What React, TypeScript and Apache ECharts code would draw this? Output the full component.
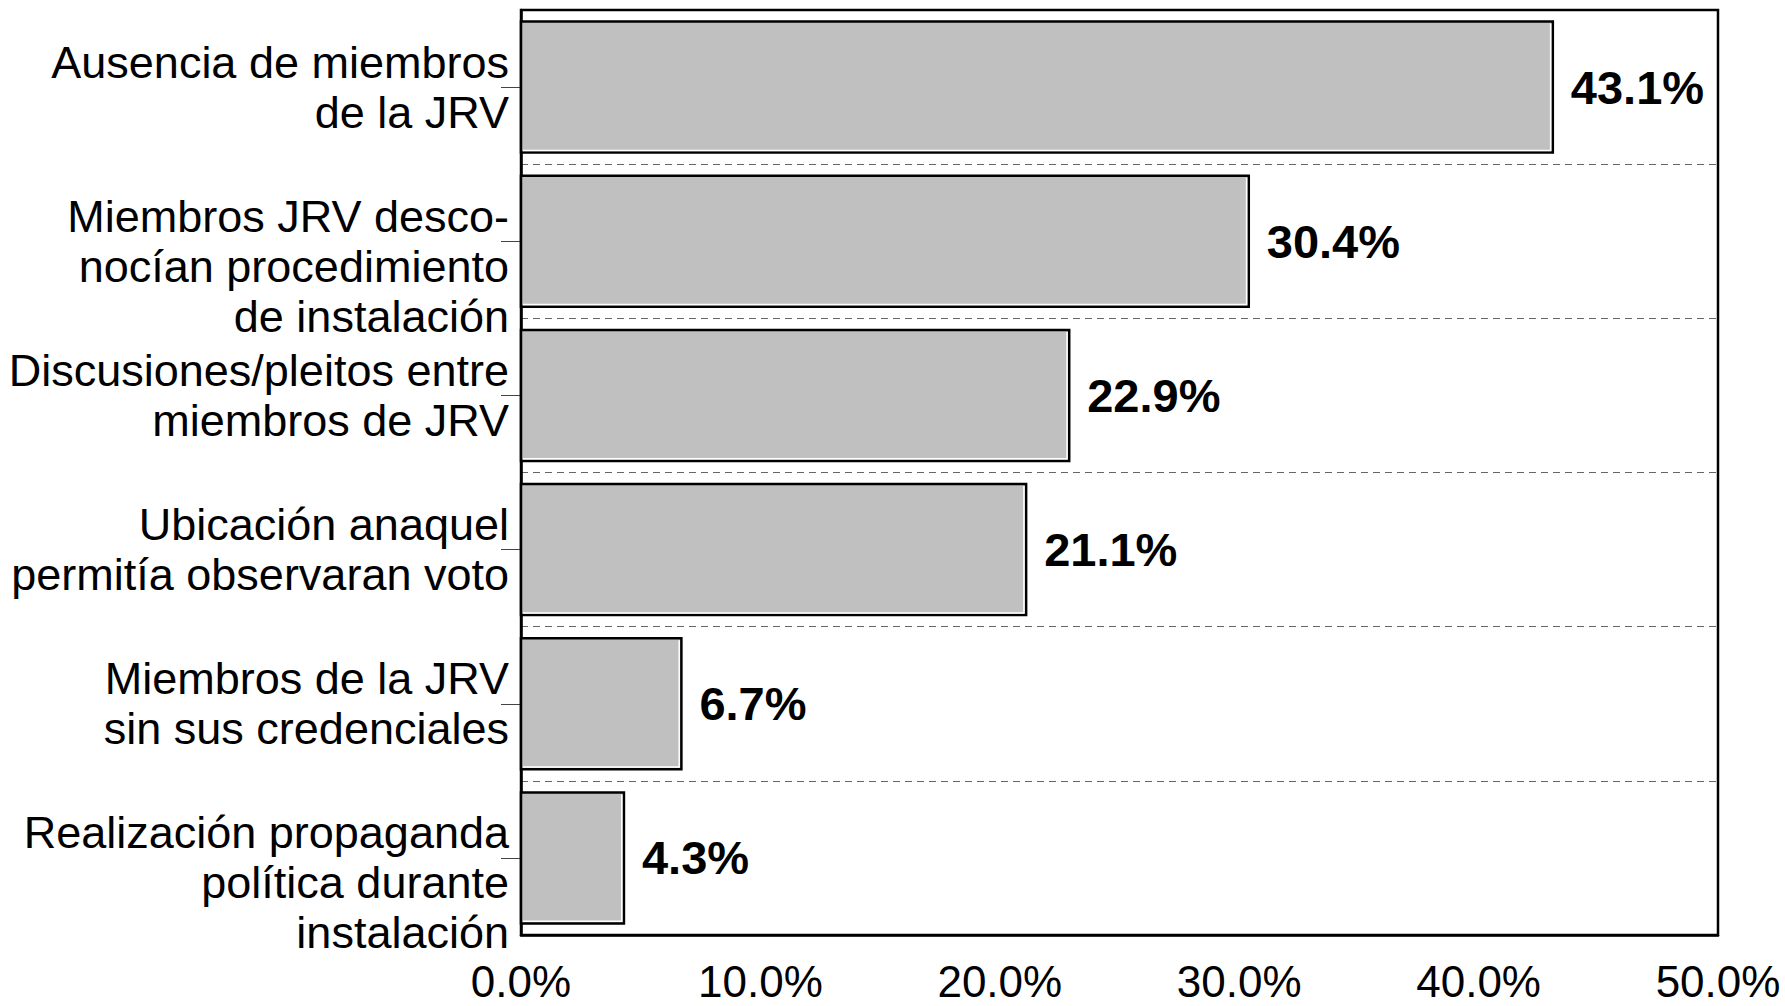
import React, { useEffect, useRef } from "react";
import * as echarts from "echarts";

const categories = [
  "Ausencia de miembros\nde la JRV",
  "Miembros JRV desco-\nnocían procedimiento\nde instalación",
  "Discusiones/pleitos entre\nmiembros de JRV",
  "Ubicación anaquel\npermitía observaran voto",
  "Miembros de la JRV\nsin sus credenciales",
  "Realización propaganda\npolítica durante\ninstalación",
];
const values = [43.1, 30.4, 22.9, 21.1, 6.7, 4.3];
const xMin = 0;
const xMax = 50;
const xInterval = 10;

const FONT = '"Liberation Sans", Arial, sans-serif';

export default function App() {
  const ref = useRef<HTMLDivElement>(null);
  useEffect(() => {
    if (!ref.current) return;
    const chart = echarts.init(ref.current, null, { renderer: "svg" });
    chart.setOption({
      animation: false,
      backgroundColor: "#fff",
      grid: {
        left: 521,
        top: 10,
        right: 67,
        bottom: 71,
        show: true,
        borderColor: "#000",
        borderWidth: 2.5,
        backgroundColor: "transparent",
      },
      xAxis: {
        type: "value",
        min: xMin,
        max: xMax,
        interval: xInterval,
        axisLine: { show: true, lineStyle: { color: "#000", width: 2.5 } },
        axisTick: { show: false },
        splitLine: { show: false },
        axisLabel: {
          margin: 26,
          fontSize: 44,
          lineHeight: 40,
          fontFamily: FONT,
          color: "#000",
          formatter: (v: number) => v.toFixed(1) + "%",
        },
      },
      yAxis: [
        {
          type: "category",
          inverse: true,
          data: categories,
          axisLine: { show: true, lineStyle: { color: "#000", width: 2.5 } },
          axisTick: {
            show: true,
            inside: true,
            length: 19,
            alignWithLabel: true,
            lineStyle: { color: "#444", width: 1 },
          },
          splitLine: {
            show: true,
            showMinLine: false,
            showMaxLine: false,
            lineStyle: { color: "#666", width: 1, type: [7, 5] },
          },
          axisLabel: {
            margin: 12,
            fontSize: 45,
            lineHeight: 50,
            fontFamily: FONT,
            color: "#000",
            align: "right",
            formatter: (v: string) =>
              v.split("\n").length >= 3 ? "\n" + v : v,
          },
        },
        {
          type: "category",
          inverse: true,
          position: "left",
          data: categories,
          axisLine: { show: false },
          axisTick: {
            show: true,
            inside: false,
            length: 20,
            alignWithLabel: true,
            lineStyle: { color: "#444", width: 1 },
          },
          splitLine: { show: false },
          axisLabel: { show: false },
        },
      ],
      series: [
        {
          type: "custom",
          yAxisIndex: 0,
          encode: { x: 0, y: 1 },
          data: values.map((v, i) => [v, i]),
          renderItem: (params: any, api: any) => {
            const v = api.value(0);
            const idx = api.value(1);
            const start = api.coord([0, idx]);
            const end = api.coord([v, idx]);
            const band = api.size([0, 1])[1];
            const h = band * 0.85;
            const x = start[0];
            const y = start[1] - h / 2;
            const w = end[0] - start[0];
            return {
              type: "group",
              children: [
                {
                  type: "rect",
                  shape: { x, y, width: w, height: h },
                  style: { fill: "#c0c0c0", stroke: "#000", lineWidth: 2.5 },
                },
                {
                  type: "polyline",
                  shape: {
                    points: [
                      [x + w - 2.2, y + 2],
                      [x + w - 2.2, y + h - 2.2],
                      [x + 2, y + h - 2.2],
                    ],
                  },
                  style: { stroke: "#fff", fill: null, lineWidth: 1.5 },
                },
                {
                  type: "text",
                  x: end[0] + 18,
                  y: start[1],
                  style: {
                    text: v.toFixed(1) + "%",
                    fill: "#000",
                    font: `bold 47px ${FONT}`,
                    verticalAlign: "middle",
                    align: "left",
                  },
                },
              ],
            };
          },
        },
      ],
    });
    return () => chart.dispose();
  }, []);
  return (
    <div
      ref={ref}
      style={{ position: "fixed", left: 0, top: 0, width: 1785, height: 1006 }}
    />
  );
}
